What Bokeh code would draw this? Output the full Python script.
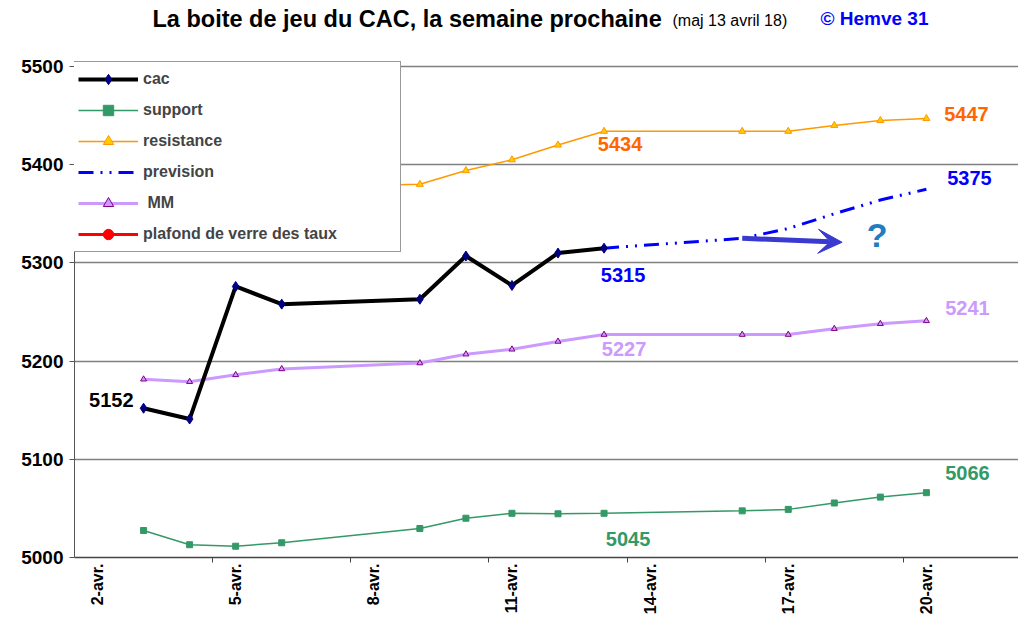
import math
from bokeh.plotting import figure
from bokeh.models import (ColumnDataSource, FixedTicker, Legend, LegendItem, Label,
                          Arrow, VeeHead, Range1d)
from bokeh.core.properties import value
from bokeh.embed import file_html
from bokeh.resources import INLINE

FONT = "Liberation Sans"

# ---- data (day of April 2018) ----
cac_days = [3, 4, 5, 6, 9, 10, 11, 12, 13]
cac = [5152, 5141, 5276, 5258, 5263, 5307, 5277, 5310, 5315]

all_days = [3, 4, 5, 6, 9, 10, 11, 12, 13, 16, 17, 18, 19, 20]
support = [5027.5, 5013, 5011.5, 5015, 5029.5, 5040, 5045, 5044.5, 5045, 5047.5, 5049, 5055.5, 5061.5, 5066]
resistance = [5352, 5346, 5370, 5377, 5380, 5394, 5405, 5420, 5434, 5434, 5434, 5440, 5445, 5447]
mm = [5181.5, 5179, 5186, 5192, 5198, 5207, 5212, 5220, 5227, 5227, 5227, 5233, 5238, 5241]

prev_days = [13, 16, 17, 18, 19, 20]
prevision = [5315, 5325, 5335, 5350, 5364, 5375]

# series shown only in the legend (no visible values on the chart)
plafond_days = [13]
plafond = [float("nan")]

tick_days = [2, 5, 8, 11, 14, 17, 20]
tick_labels = ["2-avr.", "5-avr.", "8-avr.", "11-avr.", "14-avr.", "17-avr.", "20-avr."]
y_ticks = [5000, 5100, 5200, 5300, 5400, 5500]

# ---- figure (frame reaches the top so the title sits inside it) ----
p = figure(width=1018, height=619, x_range=Range1d(1.5, 22.0), y_range=Range1d(5000, 5567.2),
           output_backend="svg", toolbar_location=None,
           min_border_left=74, min_border_right=0, min_border_top=0, min_border_bottom=62)
p.title.visible = False
p.outline_line_color = None
p.background_fill_color = "white"
p.border_fill_color = "white"
p.xgrid.visible = False
p.ygrid.grid_line_color = "#808080"
p.ygrid.grid_line_width = 1.5
p.ygrid.ticker = FixedTicker(ticks=y_ticks, minor_ticks=[])

p.yaxis.ticker = FixedTicker(ticks=y_ticks, minor_ticks=[])
p.yaxis.bounds = (y_ticks[0], y_ticks[-1])
p.yaxis.major_tick_out = 5
p.yaxis.major_tick_in = 0
p.yaxis.major_tick_line_color = "#555555"
p.yaxis.axis_line_color = "#555555"
p.yaxis.major_label_text_font = FONT
p.yaxis.major_label_text_font_size = "19px"
p.yaxis.major_label_text_font_style = "bold"
p.yaxis.major_label_text_color = "black"
p.yaxis.major_label_standoff = 6

p.xaxis.ticker = FixedTicker(ticks=tick_days, minor_ticks=[d + 2.5 for d in tick_days])
p.xaxis.major_label_overrides = {d: l for d, l in zip(tick_days, tick_labels)}
p.xaxis.major_tick_line_color = None
p.xaxis.major_tick_out = 0
p.xaxis.major_tick_in = 0
p.xaxis.minor_tick_line_color = "#444444"
p.xaxis.minor_tick_out = 5
p.xaxis.minor_tick_in = 0
p.xaxis.axis_line_color = "#444444"
p.xaxis.axis_line_width = 1.5
p.xaxis.major_label_orientation = math.pi / 2
p.xaxis.major_label_standoff = 1
p.xaxis.major_label_text_font = FONT
p.xaxis.major_label_text_font_size = "16px"
p.xaxis.major_label_text_font_style = "bold"
p.xaxis.major_label_text_color = "black"

# ---- series ----
r_sup_l = p.line(all_days, support, line_color="#339966", line_width=1.5)
r_sup_m = p.scatter(all_days, support, marker="square", size=6, fill_color="#339966", line_color="#339966")

r_res_l = p.line(all_days, resistance, line_color="#FF9900", line_width=1.5)
r_res_m = p.scatter(all_days, resistance, marker="triangle", size=7, fill_color="#FFCC00", line_color="#FF9900")

r_mm_l = p.line(all_days, mm, line_color="#CC99FF", line_width=3)
r_mm_m = p.scatter(all_days, mm, marker="triangle", size=6, fill_color="#CC99FF", line_color="#800080")

r_prev = p.line(prev_days, prevision, line_color="#0000FF", line_width=3, line_dash="15 7 2 7 2 7")

r_cac_l = p.line(cac_days, cac, line_color="black", line_width=4)
r_cac_m = p.scatter(cac_days, cac, marker="diamond", size=10, fill_color="#000080", line_color="#000080")

r_pl_l = p.line(plafond_days, plafond, line_color="#FF0000", line_width=3)
r_pl_m = p.scatter(plafond_days, plafond, marker="circle", size=9, fill_color="#FF0000", line_color="#FF0000")

# ---- value labels ----
lab_x = [cac_days[0], cac_days[-1], all_days[8], all_days[-1], prev_days[-1],
         all_days[-1], all_days[8], all_days[-1], all_days[8]]
lab_y = [cac[0], cac[-1], resistance[8], resistance[-1], prevision[-1],
         mm[-1], mm[8], support[-1], support[8]]
lab_text = [str(int(round(v))) for v in lab_y]
lab_color = ["black", "#0000FF", "#FF6600", "#FF6600", "#0000FF",
             "#CC99FF", "#CC99FF", "#339966", "#339966"]
lab_dx = [-10, 19, 16, 40, 43, 41, 20, 41, 24]
lab_dy = [-8, 27, 13, -5, -11, -13, 14, -20, 26]
lab_align = ["right"] + ["center"] * 8
src = ColumnDataSource(dict(x=lab_x, y=lab_y, t=lab_text, c=lab_color, dx=lab_dx, dy=lab_dy, a=lab_align))
p.text(x="x", y="y", text="t", text_color="c", x_offset="dx", y_offset="dy", text_align="a",
       text_baseline="middle", text_font=value(FONT), text_font_size="20px", text_font_style="bold", source=src)

# ---- arrow and question mark ----
p.add_layout(Arrow(x_start=prev_days[1], y_start=prevision[1], x_end=18.17, y_end=5321,
                   line_color="#3A3AD0", line_width=5,
                   end=VeeHead(size=24, fill_color="#3A3AD0", line_color="#3A3AD0")))
p.add_layout(Label(x=18.93, y=5328, text="?", text_align="center", text_baseline="middle",
                   text_font=FONT, text_font_size="34px", text_font_style="bold", text_color="#1F7EC1"))

# ---- legend ----
legend = Legend(items=[
    LegendItem(label="cac", renderers=[r_cac_l, r_cac_m]),
    LegendItem(label="support", renderers=[r_sup_l, r_sup_m]),
    LegendItem(label="resistance", renderers=[r_res_l, r_res_m]),
    LegendItem(label="prevision", renderers=[r_prev]),
    LegendItem(label=" MM", renderers=[r_mm_l, r_mm_m]),
    LegendItem(label="plafond de verre des taux", renderers=[r_pl_l, r_pl_m]),
], location=(-1, 305), margin=0, padding=4, spacing=5, glyph_width=60, glyph_height=26,
   label_height=26, label_width=253, label_standoff=5, label_text_font=FONT,
   label_text_font_size="16px", label_text_font_style="bold", border_line_color="#333333",
   background_fill_alpha=1.0)
p.add_layout(legend)

# ---- title (screen units inside the frame, measured from its bottom-left) ----
p.add_layout(Label(x=78, y=539, x_units="screen", y_units="screen",
                   text="La boite de jeu du CAC, la semaine prochaine",
                   text_baseline="middle", text_font=FONT, text_font_size="23.5px",
                   text_font_style="bold", text_color="black"))
p.add_layout(Label(x=598, y=537, x_units="screen", y_units="screen", text="(maj 13 avril 18)",
                   text_baseline="middle", text_font=FONT, text_font_size="16px", text_color="black"))
p.add_layout(Label(x=746, y=539, x_units="screen", y_units="screen", text="© Hemve 31",
                   text_baseline="middle", text_font=FONT, text_font_size="19px",
                   text_font_style="bold", text_color="#0000FF"))

open("out.html", "w").write(file_html(p, INLINE))
